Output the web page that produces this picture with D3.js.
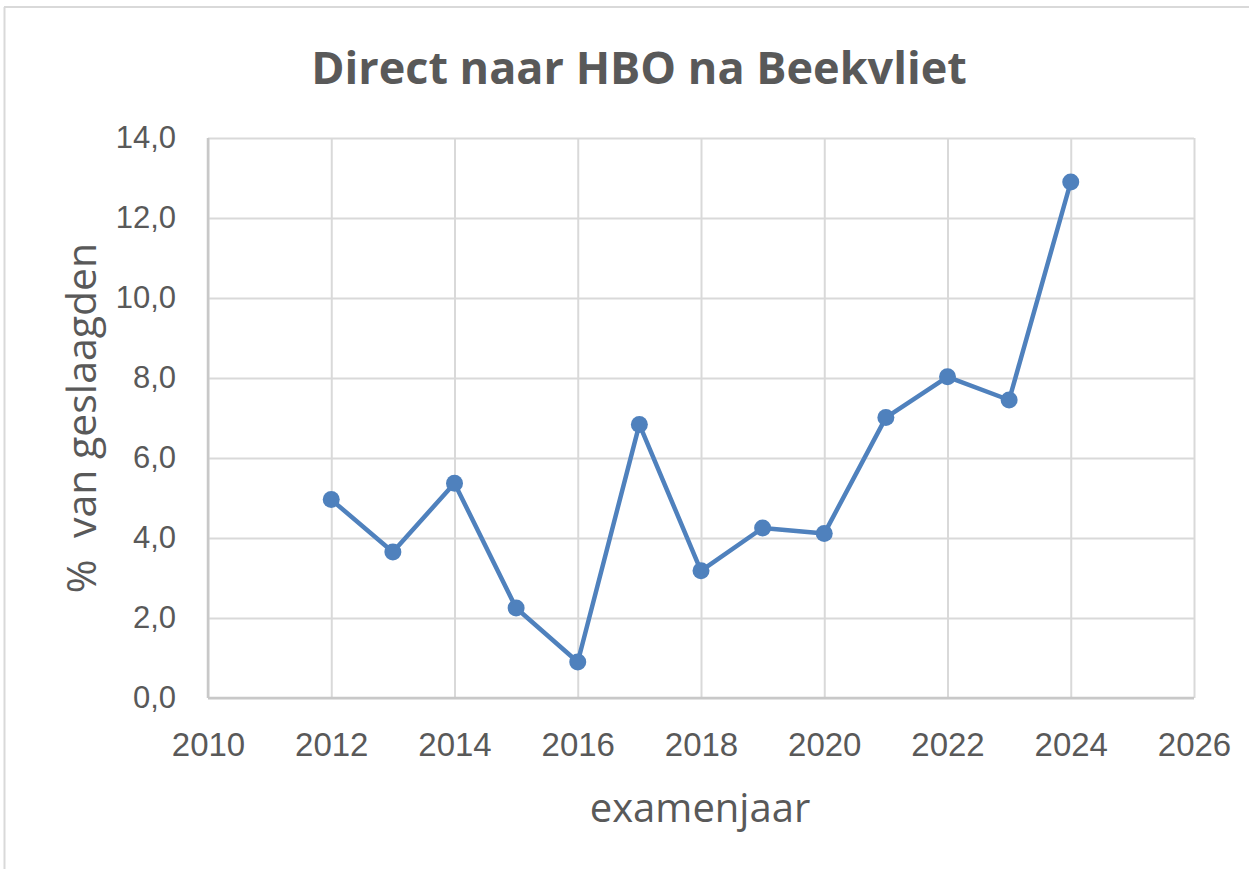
<!DOCTYPE html>
<html>
<head>
<meta charset="utf-8">
<script src="https://cdn.jsdelivr.net/npm/d3@7"></script>
<style>
  html, body { margin: 0; padding: 0; background: #fff; }
  svg { display: block; font-family: "Open Sans", sans-serif; }
</style>
</head>
<body>
<div id="chart"></div>
<script>
  // examenjaar en percentage direct naar HBO
  var years  = [2012, 2013, 2014, 2015, 2016, 2017, 2018, 2019, 2020, 2021, 2022, 2023, 2024];
  var values = [4.96, 3.65, 5.37, 2.25, 0.90, 6.84, 3.18, 4.25, 4.11, 7.01, 8.03, 7.45, 12.9];
  var xTicks = [2010, 2012, 2014, 2016, 2018, 2020, 2022, 2024, 2026];
  var yTicks = [0, 2, 4, 6, 8, 10, 12, 14];

  var W = 1249, H = 869;
  var LINE  = "#4f81bd";
  var GRID  = "#d9d9d9";
  var TEXT  = "#595959";

  var margin = { top: 138, right: 55, bottom: 171, left: 208 };
  var width  = W - margin.left - margin.right;
  var height = H - margin.top - margin.bottom;

  var svg = d3.select("#chart").append("svg")
    .attr("width", W)
    .attr("height", H);

  // frame of the chart area (cropped screenshot)
  svg.append("line")
    .attr("x1", 4.5).attr("x2", 4.5).attr("y1", 7).attr("y2", H)
    .attr("stroke", GRID).attr("stroke-width", 2);
  svg.append("line")
    .attr("x1", 4).attr("x2", W).attr("y1", 7).attr("y2", 7)
    .attr("stroke", GRID).attr("stroke-width", 2);

  var g = svg.append("g")
    .attr("transform", "translate(" + margin.left + "," + margin.top + ")");

  var x = d3.scaleLinear().domain([2010, 2026]).range([0, width]);
  var y = d3.scaleLinear().domain([0, 14]).range([height, 0]);

  var fmtY = function (d) { return d3.format(".1f")(d).replace(".", ","); };

  // horizontal grid + y labels
  g.append("g")
    .call(d3.axisLeft(y).tickValues(yTicks).tickSize(-width).tickFormat(fmtY).tickPadding(32))
    .call(function (a) {
      a.select(".domain").remove();
      a.selectAll(".tick line").attr("stroke", GRID).attr("stroke-width", 2);
      a.selectAll(".tick text")
        .attr("fill", TEXT)
        .attr("font-size", "31px");
    });

  // vertical grid + x labels
  g.append("g")
    .attr("transform", "translate(0," + height + ")")
    .call(d3.axisBottom(x).tickValues(xTicks).tickSize(-height).tickFormat(d3.format("d")).tickPadding(35))
    .call(function (a) {
      a.select(".domain").remove();
      a.selectAll(".tick line").attr("stroke", GRID).attr("stroke-width", 2);
      a.selectAll(".tick text")
        .attr("fill", TEXT)
        .attr("font-size", "33px");
    });

  // axis lines
  g.append("line")
    .attr("x1", 0).attr("x2", width).attr("y1", height).attr("y2", height)
    .attr("stroke", "#c8c8c8").attr("stroke-width", 2.5);
  g.append("line")
    .attr("x1", 0).attr("x2", 0).attr("y1", 0).attr("y2", height)
    .attr("stroke", "#c8c8c8").attr("stroke-width", 2.5);

  var pts = years.map(function (yr, i) { return [yr, values[i]]; });

  g.append("path")
    .datum(pts)
    .attr("fill", "none")
    .attr("stroke", LINE)
    .attr("stroke-width", 4.5)
    .attr("stroke-linejoin", "round")
    .attr("d", d3.line().x(function (d) { return x(d[0]); }).y(function (d) { return y(d[1]); }));

  g.selectAll("circle.pt")
    .data(pts)
    .enter().append("circle")
      .attr("class", "pt")
      .attr("cx", function (d) { return x(d[0]); })
      .attr("cy", function (d) { return y(d[1]); })
      .attr("r", 8.5)
      .attr("fill", LINE);

  // titles
  svg.append("text")
    .attr("x", 639).attr("y", 68)
    .attr("dy", "0.35em")
    .attr("text-anchor", "middle")
    .attr("fill", TEXT)
    .attr("font-size", "45px")
    .attr("font-weight", "bold")
    .text("Direct naar HBO na Beekvliet");

  svg.append("text")
    .attr("x", 700).attr("y", 808)
    .attr("dy", "0.35em")
    .attr("text-anchor", "middle")
    .attr("fill", TEXT)
    .attr("font-size", "40px")
    .text("examenjaar");

  svg.append("text")
    .attr("transform", "translate(82,418) rotate(-90)")
    .attr("dy", "0.35em")
    .attr("text-anchor", "middle")
    .attr("fill", TEXT)
    .attr("font-size", "41px")
    .attr("xml:space", "preserve")
    .text("%  van geslaagden");
</script>
</body>
</html>
